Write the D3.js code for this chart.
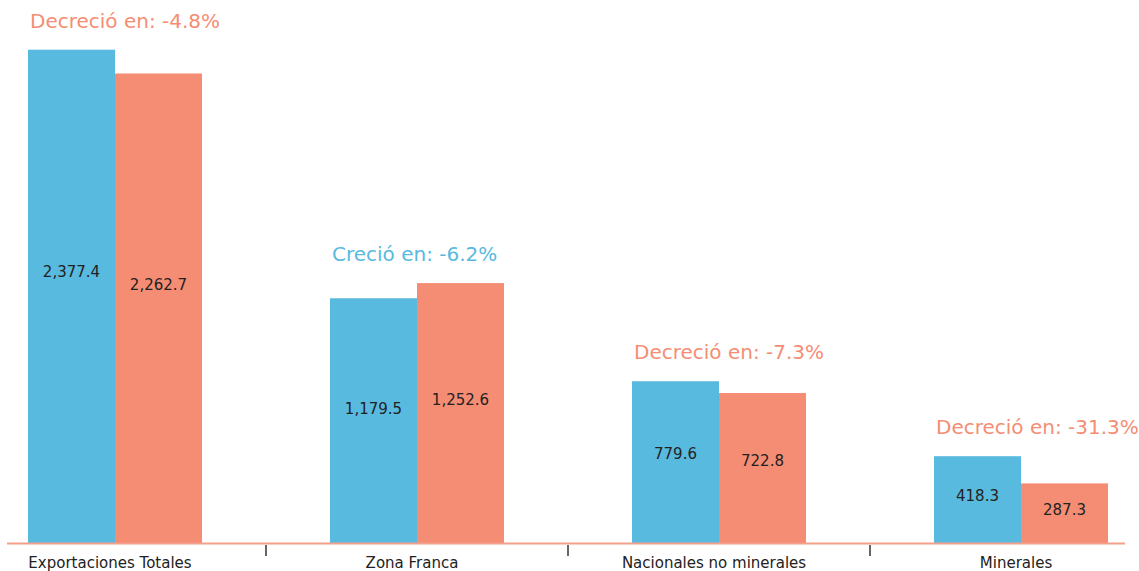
<!DOCTYPE html>
<html>
<head>
<meta charset="utf-8">
<script src="https://cdn.jsdelivr.net/npm/d3@7"></script>
<style>
  body { margin: 0; background: #fff; }
  text { font-family: "DejaVu Sans", sans-serif; }
</style>
</head>
<body>
<div id="viz"></div>
<script>
var categories = ['Exportaciones Totales', 'Zona Franca', 'Nacionales no minerales', 'Minerales'];
var series = ['Anterior', 'Actual'];
var anterior = [2377.4, 1179.5, 779.6, 418.3];
var actual = [2262.7, 1252.6, 722.8, 287.3];
var notes = ['Decreció en: -4.8%', 'Creció en: -6.2%', 'Decreció en: -7.3%', 'Decreció en: -31.3%'];

var width = 1139,
    height = 571,
    baseline = 543;

var colors = { 'Anterior': '#58BADF', 'Actual': '#F58D74' };

var rows = categories.map(function(c, i) {
    return { cat: c, values: [anterior[i], actual[i]], note: notes[i] };
});

var xScale = d3.scaleBand()
    .domain(categories)
    .range([-36, 1172]);

var xInner = d3.scaleBand()
    .domain(series)
    .range([0, 174]);

var yScale = d3.scaleLinear()
    .domain([0, 2400])
    .range([baseline, 45]);

var fmt = d3.format(',.1f');

var svg = d3.select('#viz').append('svg')
    .attr('width', width)
    .attr('height', height);

var groups = svg.selectAll('g.cat').data(rows)
    .enter().append('g')
    .attr('class', 'cat')
    .attr('transform', function(d) {
        return 'translate(' + (xScale(d.cat) + xScale.bandwidth() / 2 - 87) + ',0)';
    });

groups.selectAll('rect').data(function(d) {
        return series.map(function(s, j) { return { s: s, v: d.values[j] }; });
    })
    .enter().append('rect')
    .attr('x', function(d) { return xInner(d.s); })
    .attr('width', xInner.bandwidth())
    .attr('y', function(d) { return yScale(d.v); })
    .attr('height', function(d) { return baseline - yScale(d.v); })
    .attr('fill', function(d) { return colors[d.s]; });

// value labels sit a little above the middle of each bar
groups.selectAll('text.val').data(function(d) {
        return series.map(function(s, j) { return { s: s, v: d.values[j] }; });
    })
    .enter().append('text')
    .attr('class', 'val')
    .attr('x', function(d) { return xInner(d.s) + xInner.bandwidth() / 2; })
    .attr('y', function(d) { return yScale(d.v * 0.55); })
    .attr('dy', '0.35em')
    .attr('text-anchor', 'middle')
    .attr('font-size', 15)
    .attr('fill', '#222')
    .text(function(d) { return fmt(d.v); });

groups.append('text')
    .attr('x', 2)
    .attr('y', function(d) { return yScale(d3.max(d.values)) - 22; })
    .attr('font-size', 20)
    .attr('fill', function(d) {
        return d.note.indexOf('Creció') === 0 ? colors['Anterior'] : colors['Actual'];
    })
    .text(function(d) { return d.note; });

// axis
svg.append('line')
    .attr('x1', 7).attr('x2', 1125)
    .attr('y1', baseline + 0.5).attr('y2', baseline + 0.5)
    .attr('stroke', '#F4A08A')
    .attr('stroke-width', 2);

svg.selectAll('line.tick').data(categories.slice(1))
    .enter().append('line')
    .attr('class', 'tick')
    .attr('x1', function(d) { return xScale(d); })
    .attr('x2', function(d) { return xScale(d); })
    .attr('y1', 545).attr('y2', 556)
    .attr('stroke', '#333')
    .attr('stroke-width', 1.5);

svg.selectAll('text.cat').data(categories)
    .enter().append('text')
    .attr('class', 'cat')
    .attr('x', function(d) { return xScale(d) + xScale.bandwidth() / 2 - 5; })
    .attr('y', 563)
    .attr('dy', '0.35em')
    .attr('text-anchor', 'middle')
    .attr('font-size', 15)
    .attr('fill', '#222')
    .text(function(d) { return d; });
</script>
</body>
</html>
